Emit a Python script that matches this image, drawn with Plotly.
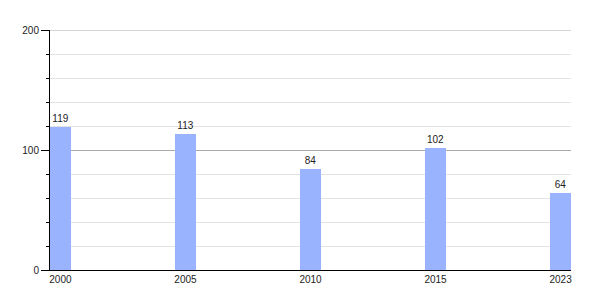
import plotly.graph_objects as go

years = ["2000", "2005", "2010", "2015", "2023"]
values = [119, 113, 84, 102, 64]
y_max = 200

fig = go.Figure(go.Bar(
    x=years, y=values,
    text=[str(v) for v in values],
    textposition="outside",
    textfont=dict(family="Liberation Sans, Arial", size=10, color="#222"),
    marker=dict(color="#99b3ff", line=dict(width=0)),
    width=0.166,
    cliponaxis=False,
))

fig.update_layout(
    width=600, height=300,
    margin=dict(l=50, r=29, t=30, b=30),
    plot_bgcolor="white", paper_bgcolor="white",
    showlegend=False,
    font=dict(family="Liberation Sans, Arial", size=10, color="#222"),
    xaxis=dict(
        type="category",
        range=[-0.083, 4.083],
        showgrid=False,
        showline=True, linecolor="black", linewidth=1,
        ticks="", ticklen=0,
        tickfont=dict(size=10, color="#222"),
    ),
    yaxis=dict(
        range=[0, y_max],
        tickvals=[0, 100, 200],
        showgrid=True, gridcolor="#aaaaaa", gridwidth=1,
        showline=True, linecolor="black", linewidth=1,
        ticks="outside", ticklen=8, tickcolor="black",
        zeroline=False,
        tickfont=dict(size=10, color="#222"),
        minor=dict(dtick=20, showgrid=True, gridcolor="#e3e3e3", gridwidth=1,
                   ticks="outside", ticklen=3, tickcolor="black"),
    ),
    bargap=0,
)

# top gridline at the range edge (Plotly omits it)
fig.add_shape(type="line", xref="paper", x0=0, x1=1, yref="y", y0=y_max, y1=y_max,
              line=dict(color="#aaaaaa", width=1), layer="below")

fig.write_html("out.html")
